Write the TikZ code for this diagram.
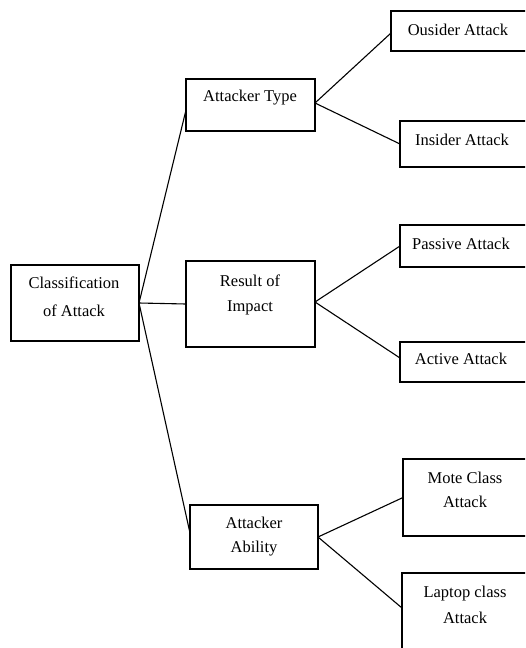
\documentclass[tikz,border=0pt]{standalone}
\usepackage{fontspec}
\setmainfont{Liberation Serif}
\begin{document}
\begin{tikzpicture}[x=1pt,y=-1pt,
  box/.style={draw=black,line width=1.2pt,inner sep=0pt,outer sep=0pt,fill=none},
  txt/.style={inner sep=0pt,align=center,font=\fontsize{16.5}{25}\selectfont,text=black},
  conn/.style={draw=black,line width=1.1pt}]
\useasboundingbox (0,0) rectangle (525,648);
\clip (0,0) rectangle (525,648);
% boxes
\node[box,minimum width=128pt,minimum height=76pt] (root) at (75,303) {};
\node[box,minimum width=129pt,minimum height=52pt] (type) at (250.5,105) {};
\node[box,minimum width=129pt,minimum height=86pt] (result) at (250.5,304) {};
\node[box,minimum width=128pt,minimum height=64pt] (ability) at (254,537) {};
\node[box,minimum width=139pt,minimum height=40pt] (outsider) at (460.5,31) {};
\node[box,minimum width=130pt,minimum height=46pt] (insider) at (465,144) {};
\node[box,minimum width=130pt,minimum height=42pt] (passive) at (465,246) {};
\node[box,minimum width=130pt,minimum height=40pt] (active) at (465,362) {};
\node[box,minimum width=127pt,minimum height=77pt] (mote) at (466.5,497.5) {};
\node[box,minimum width=128pt,minimum height=87pt] (laptop) at (466,616.5) {};
% texts
\node[txt] (troot) at (74,297) {Classification\\[3pt]of Attack};
\node[txt] (ttype) at (250,98) {Attacker Type};
\node[txt] (tresult) at (250,294.5) {Result of\\Impact};
\node[txt] (tability) at (254,537) {Attacker\\[-1pt]Ability};
\node[txt] (toutsider) at (458,30) {Ousider Attack};
\node[txt] (tinsider) at (462,140) {Insider Attack};
\node[txt] (tpassive) at (461,244) {Passive Attack};
\node[txt] (tactive) at (461,359) {Active Attack};
\node[txt] (tmote) at (465,490) {Mote Class\\[-1pt]Attack};
\node[txt] (tlaptop) at (465,605) {Laptop class\\[1pt]Attack};
% connectors
\draw[conn] (root.east) -- ([yshift=-5pt]type.west);
\draw[conn] (root.east) -- (result.west);
\draw[conn] (root.east) -- ([yshift=4pt]ability.west);
\draw[conn] ([yshift=2pt]type.east) -- ([yshift=-2pt]outsider.west);
\draw[conn] ([yshift=2pt]type.east) -- (insider.west);
\draw[conn] ([yshift=2pt]result.east) -- (passive.west);
\draw[conn] ([yshift=2pt]result.east) -- ([yshift=4pt]active.west);
\draw[conn] (ability.east) -- (mote.west);
\draw[conn] (ability.east) -- ([yshift=8.5pt]laptop.west);
\end{tikzpicture}
\end{document}
